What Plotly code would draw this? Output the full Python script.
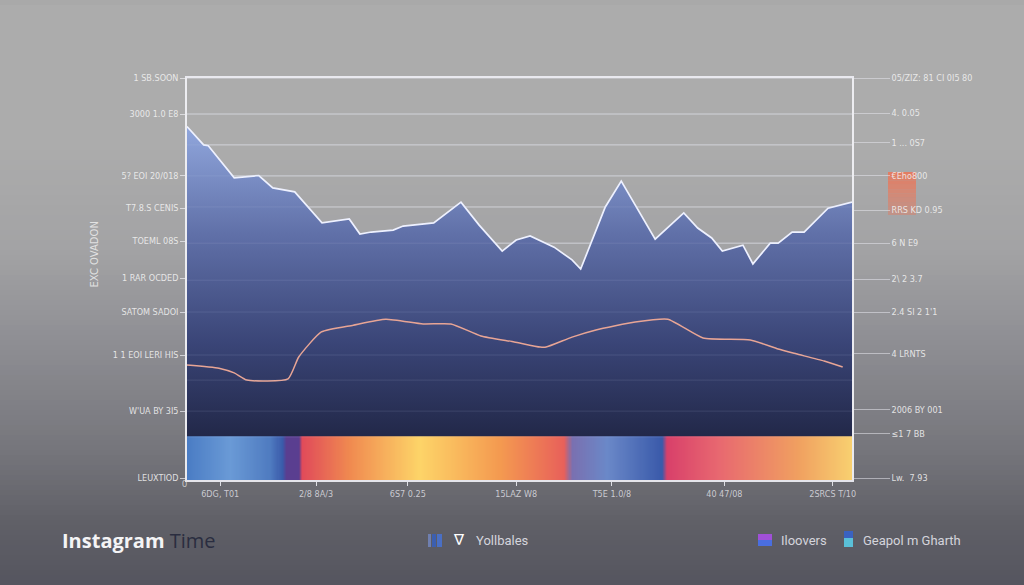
import numpy as np
import plotly.graph_objects as go

# ---------------- data ----------------
upper_x = [0, 2.5, 3.2, 7.1, 10.8, 12.9, 16.2, 20.3, 24.4, 26.0, 27.7, 31.0, 32.5, 37.1,
           41.2, 43.9, 47.4, 49.5, 51.6, 53.4, 55.2, 57.9, 59.2, 62.9, 65.3, 70.4, 74.7,
           76.8, 78.9, 80.5, 83.6, 85.1, 87.7, 88.9, 91.0, 92.8, 96.4, 100]
upper_y = [87.8, 83.2, 83.0, 74.9, 75.5, 72.4, 71.4, 63.6, 64.6, 60.8, 61.3, 61.8, 62.8, 63.6,
           68.8, 63.1, 56.5, 59.3, 60.3, 58.8, 57.5, 54.3, 52.0, 67.6, 74.1, 59.5, 66.1,
           62.3, 59.8, 56.5, 58.0, 53.3, 58.5, 58.5, 61.3, 61.3, 67.3, 68.8]

lower_x = [0, 4.8, 7.1, 9.0, 15.2, 16.8, 20.2, 25.0, 29.9, 35.5, 39.7, 44.2, 49.2, 53.1,
           54.0, 57.9, 61.5, 67.4, 72.3, 77.6, 84.7, 88.9, 91.6, 95.8, 98.6]
lower_y = [27.9, 27.1, 25.9, 24.1, 24.4, 29.9, 36.2, 37.9, 39.4, 38.2, 38.2, 35.2, 33.7, 32.4,
           32.4, 34.9, 36.7, 38.7, 39.4, 34.7, 34.2, 31.9, 30.7, 28.9, 27.4]

band_top = 10.0
band_pos = [0, 6.5, 12.5, 14.4, 15.0, 16.8, 17.3, 24.5, 35.0, 47.0, 56.7, 57.9, 63.2,
            71.4, 72.2, 80.0, 92.0, 100]
band_col = ["#4a7cc4", "#6a9ad6", "#4f7bc0", "#3a5aaa", "#5a3e90", "#5a3e90", "#e04a5a",
            "#f08a50", "#fdd468", "#f49a50", "#e8605a", "#7a70b0", "#6a88c8", "#3a5aaa",
            "#d8406a", "#e86870", "#f0a060", "#f8d070"]

left_tickvals = [100, 90.95, 75.4, 67.3, 59.0, 49.7, 41.2, 30.4, 16.3, -0.5]
left_ticktext = ["1 SB.SOON", "3000 1.0 E8", "5? EOI 20/018", "T7.8.S CENIS", "TOEML 08S",
                 "1 RAR OCDED", "SATOM SADOI", "1 1 EOI LERI HIS", "W'UA BY 3I5", "LEUXTIOD"]

right_tickvals = [100, 91.2, 83.7, 75.4, 66.8, 58.5, 49.5, 41.2, 30.7, 16.6, 10.6, -0.5]
right_ticktext = ["05/ZIZ: 81 CI 0I5 80", "4. 0.05", "1 ... 0S7", "€Eho800", "RRS KD 0.95",
                  "6 N E9", "2\\ 2 3.7", "2.4 SI 2 1'1", "4 LRNTS", "2006 BY 001",
                  "≤1 7 BB", "Lw.  7.93"]

grid_vals = [100, 90.95, 83.2, 75.4, 67.6, 58.5, 49.2, 41.2, 30.4, 24.1, 16.3, 9.8]

x_tickvals = [5.0, 19.4, 33.2, 49.5, 63.9, 80.8, 97.1]
x_ticktext = ["6DG, T01", "2/8 8A/3", "6S7 0.25", "15LAZ W8", "T5E 1.0/8", "40 47/08", "2SRCS T/10"]

# ---------------- figure ----------------
W, H = 1024, 585
L, R, T, B = 187, 172, 78, 105
pw, ph = W - L - R, H - T - B

def px_x(px):
    return (px - L) / pw

def px_y(py):
    return (H - B - py) / ph

fig = go.Figure()

# colour band (heatmap coloured by position)
bx = np.linspace(0, 100, 600)
cs = [[p / 100.0, c] for p, c in zip(band_pos, band_col)]
fig.add_trace(go.Heatmap(x=bx, y=[0, band_top], z=[bx, bx], zmin=0, zmax=100,
                         colorscale=cs, showscale=False, hoverinfo="skip"))

# area base + area
fig.add_trace(go.Scatter(x=[0, 100], y=[band_top, band_top], mode="lines",
                         line=dict(width=0), showlegend=False, hoverinfo="skip"))
fig.add_trace(go.Scatter(
    x=upper_x, y=upper_y, mode="lines", fill="tonexty",
    line=dict(color="#eef1ff", width=1.7),
    fillgradient=dict(type="vertical",
                      colorscale=[[0, "#222849"], [0.3, "#3a4577"], [0.65, "#6070a8"], [1, "#91a7dd"]],
                      start=band_top, stop=88),
    showlegend=False))

fig.add_trace(go.Scatter(x=lower_x, y=lower_y, mode="lines",
                         line=dict(color="#e8a595", width=1.5, shape="spline", smoothing=0.5),
                         showlegend=False))

# dummy on right axis
fig.add_trace(go.Scatter(x=[None], y=[None], yaxis="y2", showlegend=False))

shapes = []
# background gradient
bg_py = [0, 6, 150, 250, 350, 450, 520, 585]
bg_c = [(168, 168, 168), (172, 172, 172), (172, 172, 172), (163, 163, 165),
        (141, 141, 146), (118, 118, 124), (97, 97, 104), (85, 85, 95)]
step = 5
for y0 in range(0, H, step):
    yc = y0 + step / 2
    c = [int(np.interp(yc, bg_py, [cc[i] for cc in bg_c])) for i in range(3)]
    shapes.append(dict(type="rect", xref="paper", yref="paper",
                       x0=px_x(-5), x1=px_x(W + 5), y0=px_y(y0 + step + 0.5), y1=px_y(y0),
                       fillcolor=f"rgb({c[0]},{c[1]},{c[2]})", line=dict(width=0), layer="below"))

# gridlines
for g in grid_vals:
    shapes.append(dict(type="line", xref="x", yref="y", x0=0, x1=100, y0=g, y1=g,
                       line=dict(color="rgba(235,235,240,0.6)", width=1), layer="below"))
    shapes.append(dict(type="line", xref="x", yref="y", x0=0, x1=100, y0=g, y1=g,
                       line=dict(color="rgba(200,210,240,0.13)", width=1), layer="above"))

# orange marker box on right
for i in range(10):
    a = 0.85 - i * 0.05
    shapes.append(dict(type="rect", xref="paper", yref="paper",
                       x0=px_x(888), x1=px_x(916),
                       y0=px_y(172 + (i + 1) * 4.3), y1=px_y(172 + i * 4.3),
                       fillcolor=f"rgba(236,118,88,{a:.2f})", line=dict(width=0), layer="below"))

# legend icons
for (x0, x1, c) in [(428, 431, "#6f7fb0"), (432, 436, "#3c5fb0"), (437, 442, "#4a6fc4")]:
    shapes.append(dict(type="rect", xref="paper", yref="paper", x0=px_x(x0), x1=px_x(x1),
                       y0=px_y(547), y1=px_y(534), fillcolor=c, line=dict(width=0)))
shapes.append(dict(type="rect", xref="paper", yref="paper", x0=px_x(758), x1=px_x(772),
                   y0=px_y(546), y1=px_y(534), fillcolor="#4a6ee0", line=dict(width=0)))
shapes.append(dict(type="rect", xref="paper", yref="paper", x0=px_x(758), x1=px_x(772),
                   y0=px_y(540), y1=px_y(534), fillcolor="#a050d8", line=dict(width=0)))
shapes.append(dict(type="rect", xref="paper", yref="paper", x0=px_x(844), x1=px_x(853),
                   y0=px_y(547), y1=px_y(531), fillcolor="#5ac0d8", line=dict(width=0)))
shapes.append(dict(type="rect", xref="paper", yref="paper", x0=px_x(844), x1=px_x(853),
                   y0=px_y(538), y1=px_y(531), fillcolor="#3a62c0", line=dict(width=0)))

legend_font = dict(size=13, color="#d4d4dc", family="Roboto")
annotations = [
    dict(text="EXC OVADON", xref="paper", yref="paper", x=px_x(86), y=px_y(255),
         textangle=-90, showarrow=False, font=dict(size=10, color="rgba(238,238,238,0.85)",
                                                   family="DejaVu Sans")),
    dict(text="0", xref="paper", yref="paper", x=px_x(180), y=px_y(492), showarrow=False,
         font=dict(size=9, color="rgba(235,235,235,0.8)")),
    dict(text="<b>Instagram</b> <span style='color:#2a2d40'>Time</span>", xref="paper",
         yref="paper", x=px_x(60), y=px_y(540), xanchor="left", yanchor="middle",
         showarrow=False, font=dict(size=20, color="#f4f4f6", family="Open Sans")),
    dict(text="∇", xref="paper", yref="paper", x=px_x(459), y=px_y(540), yanchor="middle",
         showarrow=False, font=dict(size=15, color="#ffffff", family="DejaVu Sans")),
    dict(text="Yollbales", xref="paper", yref="paper", x=px_x(474), y=px_y(540),
         xanchor="left", yanchor="middle", showarrow=False, font=legend_font),
    dict(text="Iloovers", xref="paper", yref="paper", x=px_x(779), y=px_y(540),
         xanchor="left", yanchor="middle", showarrow=False, font=legend_font),
    dict(text="Geapol m Gharth", xref="paper", yref="paper", x=px_x(861), y=px_y(540),
         xanchor="left", yanchor="middle", showarrow=False, font=legend_font),
]

tickfont = dict(size=9, color="rgba(242,242,242,0.88)", family="DejaVu Sans Condensed")

fig.update_layout(
    width=W, height=H,
    margin=dict(l=L, r=R, t=T, b=B),
    paper_bgcolor="#8f8f93",
    plot_bgcolor="rgba(0,0,0,0)",
    showlegend=False,
    shapes=shapes,
    annotations=annotations,
    xaxis=dict(range=[0, 100], tickvals=x_tickvals, ticktext=x_ticktext, showgrid=False,
               zeroline=False, showline=True, linecolor="rgba(236,236,242,0.95)", linewidth=2,
               mirror=True, ticks="outside", ticklen=4, tickcolor="rgba(236,236,242,0.9)",
               tickfont=dict(size=9, color="rgba(215,215,222,0.9)", family="DejaVu Sans Condensed")),
    yaxis=dict(range=[-1.0, 100], tickvals=left_tickvals, ticktext=left_ticktext,
               showgrid=False, zeroline=False, showline=True,
               linecolor="rgba(240,240,244,0.95)", linewidth=1.5, ticks="outside", ticklen=5,
               tickcolor="rgba(240,240,244,0.7)", tickfont=tickfont),
    yaxis2=dict(range=[-1.0, 100], overlaying="y", side="right", tickvals=right_tickvals,
                ticktext=right_ticktext, showgrid=False, zeroline=False, showline=True,
                linecolor="rgba(240,240,244,0.95)", linewidth=1.5, ticks="outside", ticklen=36,
                tickcolor="rgba(230,230,236,0.55)", tickfont=tickfont),
)

fig.write_html("out.html")
